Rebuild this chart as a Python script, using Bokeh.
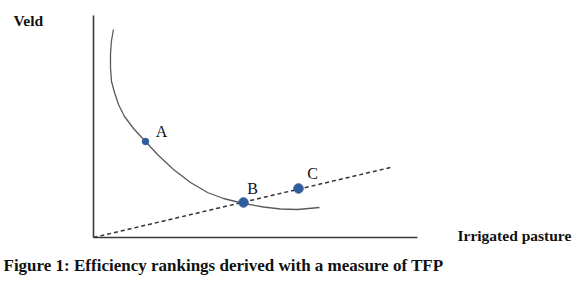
from bokeh.plotting import figure
from bokeh.models import Range1d, Label
from bokeh.embed import file_html
from bokeh.resources import INLINE

# Isoquant curve (origin at axes corner)
curve_x = [20, 18, 17, 17, 18, 21, 25, 31, 40, 52, 64, 80, 97, 114, 130, 150, 170, 187, 204, 226]
curve_y = [208, 197, 184, 170, 156, 145, 133, 121, 109, 96, 83, 68, 55, 45, 39, 34, 30.5, 28.5, 28, 30]

# Ray from origin (TFP measure)
ray_x = [0, 297]
ray_y = [0, 70]

# Farms
point_names = ["A", "B", "C"]
point_x = [52, 150, 205]
point_y = [96, 35, 49]
point_size = [6.5, 9.5, 9.5]
label_x = [68, 159, 219]
label_y = [106, 49, 64]

# Axes extents
xaxis_x = [0, 324]
xaxis_y = [0, 0]
yaxis_x = [0, 0]
yaxis_y = [0, 222]

y_title = "Veld"
x_title = "Irrigated pasture"
caption = "Figure 1: Efficiency rankings derived with a measure of TFP"

p = figure(width=572, height=276, output_backend="svg", toolbar_location=None,
           x_range=Range1d(-93, 479), y_range=Range1d(-39, 237),
           min_border=0, min_border_left=0, min_border_right=0,
           min_border_top=0, min_border_bottom=0)
p.axis.visible = False
p.grid.visible = False
p.outline_line_color = None
p.background_fill_color = "white"

# axes lines
p.line(xaxis_x, xaxis_y, line_color="#3a3a3a", line_width=1.6)
p.line(yaxis_x, yaxis_y, line_color="#3a3a3a", line_width=1.6)

# curve
p.line(curve_x, curve_y, line_color="#5a5a5a", line_width=1.3, line_join="round")

# ray
p.line(ray_x, ray_y, line_color="#333333", line_width=1.5, line_dash="4 3")

# points
p.scatter(point_x, point_y, size=point_size, fill_color="#2f5d9c", line_color="#2f5d9c")

serif = "Liberation Serif"
for n, x, y in zip(point_names, label_x, label_y):
    p.add_layout(Label(x=x, y=y, text=n, text_font=serif, text_font_size="16px",
                       text_color="#111111", text_align="center", text_baseline="middle"))

p.add_layout(Label(x=-80, y=217, text=y_title, text_font=serif, text_font_style="bold",
                   text_font_size="15.5px", text_color="#111111", text_baseline="middle"))
p.add_layout(Label(x=364, y=2, text=x_title, text_font=serif, text_font_style="bold",
                   text_font_size="15.5px", text_color="#111111", text_baseline="middle"))
p.add_layout(Label(x=-90, y=-28, text=caption, text_font=serif, text_font_style="bold",
                   text_font_size="17px", text_color="#111111", text_baseline="middle"))

open("out.html", "w").write(file_html(p, INLINE))
